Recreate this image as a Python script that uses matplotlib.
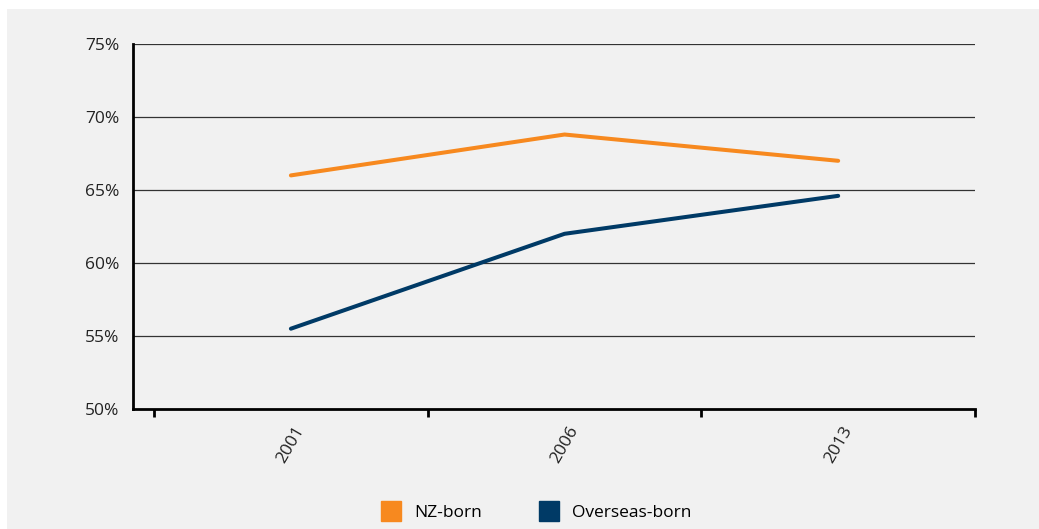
import matplotlib
matplotlib.use("Agg")
import matplotlib.pyplot as plt
from matplotlib.patches import Rectangle
from matplotlib.lines import Line2D

years = ["2001", "2006", "2013"]
nz_born = [66.0, 68.8, 67.0]
overseas_born = [55.5, 62.0, 64.6]
series_names = ["NZ-born", "Overseas-born"]
colors = ["#f7891f", "#003a66"]
yticks = [50, 55, 60, 65, 70, 75]

plt.rcParams['font.family'] = ['Open Sans', 'DejaVu Sans']

fig = plt.figure(figsize=(10.39, 5.29), dpi=100)
fig.patch.set_facecolor("white")
fig.patches.append(Rectangle((7/1039, 0), 1 - 7/1039, 1 - 9/529,
                             transform=fig.transFigure, facecolor="#f1f1f1",
                             edgecolor="none", zorder=-10))

ax = fig.add_axes([133/1039, 1 - 409/529, (975 - 133)/1039, (409 - 44)/529])
ax.set_facecolor("none")

x = list(range(len(years)))
ax.plot(x, nz_born, color=colors[0], lw=2.9, solid_capstyle="round", zorder=3)
ax.plot(x, overseas_born, color=colors[1], lw=2.9, solid_capstyle="round", zorder=3)

ax.set_ylim(50, 75)
ax.set_yticks(yticks)
ax.set_yticklabels([f"{v}%" for v in yticks], fontsize=12.5, color="#222222")
ax.tick_params(axis="y", length=0, pad=10)
for v in yticks[1:]:
    ax.axhline(v, color="#333333", lw=0.9, zorder=1)

ax.set_xlim(-0.577, 2.5)
ax.set_xticks([-0.5, 0.5, 1.5, 2.5])
ax.set_xticklabels([])
ax.tick_params(axis="x", which="major", length=6, width=2, color="black", direction="out")
ax.set_xticks(x, minor=True)
ax.set_xticklabels(years, minor=True, rotation=60, ha="center", fontsize=12.5, color="#222222")
ax.tick_params(axis="x", which="minor", length=0, pad=10)

for s in ["top", "right"]:
    ax.spines[s].set_visible(False)
ax.spines["left"].set_linewidth(2)
ax.spines["bottom"].set_linewidth(2)
ax.spines["left"].set_color("black")
ax.spines["bottom"].set_color("black")

handles = [Line2D([], [], marker="s", linestyle="none", markersize=15,
                  markerfacecolor=c, markeredgecolor=c) for c in colors]
fig.legend(handles, series_names, loc="center", bbox_to_anchor=(536/1039, 1 - 513/529),
           ncol=2, frameon=False, fontsize=12.5, columnspacing=3.3,
           handlelength=1.2, handletextpad=0.7)

fig.savefig("out.png", dpi=100, facecolor=fig.get_facecolor())
